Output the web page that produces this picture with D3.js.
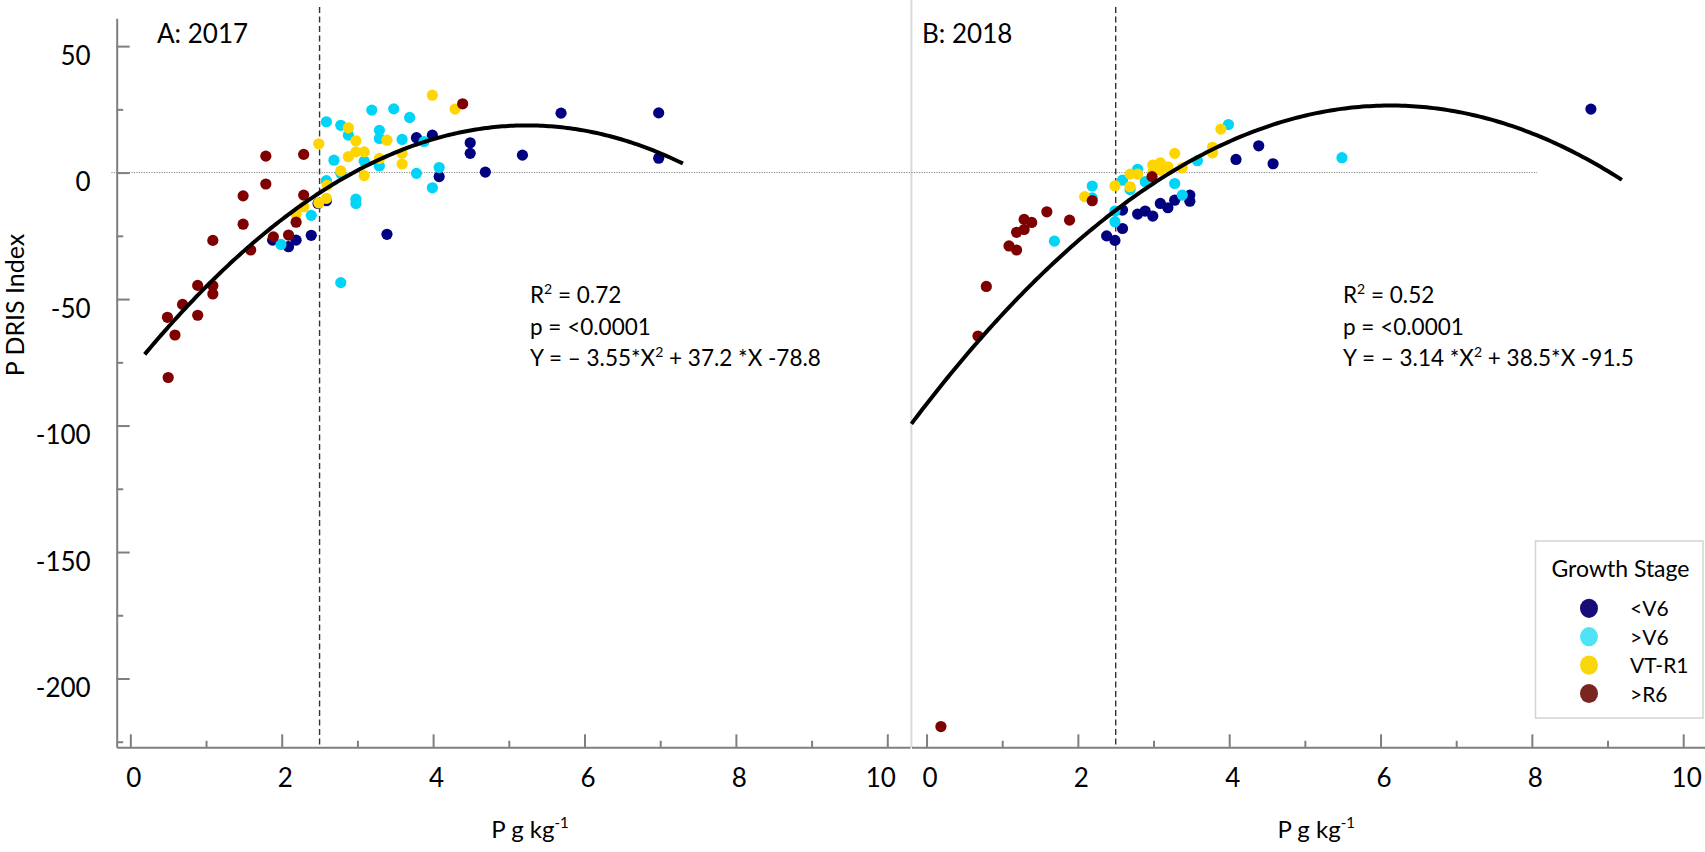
<!DOCTYPE html>
<html>
<head>
<meta charset="utf-8">
<script src="https://cdn.jsdelivr.net/npm/d3@7"></script>
<style>
  html, body { margin: 0; padding: 0; background: #fff; }
  svg { display: block; font-family: Lato, "Open Sans", sans-serif; }
</style>
</head>
<body>
<svg id="chart" width="1705" height="852"></svg>
<script>
// ---- Data: leaf P concentration (g/kg) vs P DRIS index, by growth stage ----
const stages = ["<V6", ">V6", "VT-R1", ">R6"];
const pointColors = ["#000080", "#00d4f7", "#ffd500", "#7f0000"];
const legendColors = ["#160d78", "#4ee4f6", "#f9d70d", "#7a2520"];

// 2017
const a2017_ltV6 = [[1.88,-26.7],[2.09,-29.3],[2.19,-26.7],[2.39,-24.8],[2.48,-12.2],[2.59,-11.1],
  [3.39,-24.4],[3.78,13.8],[3.99,14.8],[4.49,11.8],[4.49,7.6],[4.08,-1.6],[4.69,0.2],
  [5.18,6.9],[5.69,23.5],[6.98,23.6],[6.98,5.7]];
const a2017_gtV6 = [[2.59,20.1],[2.78,18.7],[2.88,14.8],[3.19,24.7],[3.48,25.2],[3.69,21.8],
  [3.29,16.7],[3.29,13.5],[3.59,13.1],[3.88,12.3],[2.69,4.9],[3.09,4.5],[3.29,2.6],
  [2.78,-0.3],[3.78,-0.3],[4.08,2.0],[2.59,-3.2],[3.99,-6.0],[2.98,-10.5],[2.98,-12.2],
  [2.39,-16.9],[1.99,-28.4],[2.78,-43.5]];
const a2017_vtR1 = [[3.99,30.6],[4.29,25.1],[2.88,17.7],[2.98,12.6],[3.39,12.8],[2.49,11.4],
  [2.88,6.3],[2.98,8.2],[3.09,8.2],[3.29,5.6],[3.59,7.6],[3.59,3.4],[2.78,0.7],[3.09,-1.2],
  [2.60,-5.0],[2.49,-12.0],[2.59,-10.2],[2.29,-13.5],[2.19,-16.4]];
const a2017_gtR6 = [[4.39,27.2],[1.79,6.5],[2.29,7.2],[1.79,-4.5],[1.49,-9.2],[2.29,-8.9],
  [1.49,-20.4],[2.19,-19.6],[2.09,-24.7],[1.89,-25.4],[1.09,-26.8],[1.59,-30.6],[0.89,-44.6],
  [1.09,-44.7],[1.09,-48.0],[0.69,-52.1],[0.89,-56.4],[0.49,-57.2],[0.59,-64.2],[0.50,-81.0]];

// 2018
const b2018_ltV6 = [[2.38,-25.0],[2.49,-26.8],[2.59,-22.1],[2.59,-14.8],[2.79,-16.4],[2.89,-15.2],
  [2.99,-17.2],[3.09,-12.2],[3.19,-13.9],[3.28,-10.9],[3.48,-8.9],[3.48,-11.3],[4.09,5.2],
  [4.39,10.6],[4.58,3.5],[8.78,25.1]];
const b2018_gtV6 = [[1.69,-27.1],[2.19,-5.3],[2.19,-10.0],[2.49,-15.2],[2.49,-19.4],[2.59,-3.0],
  [2.69,-6.7],[2.79,1.3],[2.89,-3.6],[3.28,-4.3],[3.38,-8.9],[3.58,4.7],[3.99,19.0],[5.49,5.9]];
const b2018_vtR1 = [[2.09,-9.5],[2.49,-5.2],[2.69,-0.6],[2.69,-5.6],[2.79,-0.6],[2.99,3.0],
  [3.09,3.9],[3.09,1.0],[3.19,2.3],[2.99,0.2],[3.28,7.6],[3.38,1.9],[3.78,10.0],[3.78,7.8],
  [3.89,17.2]];
const b2018_gtR6 = [[0.68,-64.6],[0.79,-45.0],[1.09,-29.0],[1.19,-30.6],[1.19,-23.6],[1.29,-22.5],
  [1.29,-18.5],[1.39,-19.7],[1.59,-15.5],[1.89,-18.8],[2.19,-11.1],[2.98,-1.6],[0.19,-219.0]];

// Quadratic fits: Y = a*X^2 + b*X + c, drawn over the fitted X range
const fit2017 = { a: -3.55, b: 37.2, c: -78.8, from: 0.19, to: 7.3 };
const fit2018 = { a: -3.14, b: 38.5, c: -91.5, from: -0.2, to: 9.19 };

const xTicks = [0, 2, 4, 6, 8, 10];
const xMinorTicks = [1, 3, 5, 7, 9];
const yTicks = [50, 0, -50, -100, -150, -200];
const yMinorTicks = [25, -25, -75, -125, -175, -225];
const criticalP = 2.5;

// ---- Scales ----
const svg = d3.select("#chart");
const axisColor = "#7f7f7f";
const y = d3.scaleLinear().domain([-227.2, 61]).range([747.3, 18.3]);
const xA = d3.scaleLinear().domain([-0.18, 10.3]).range([116.7, 910]);
const xB = d3.scaleLinear().domain([-0.2, 10.3]).range([911.4, 1705.9]);
const axisY = y.range()[0];
const plainNumber = d => String(d);   // hyphen-minus, as typeset on the axes

// Panel B vertical frame line (light)
svg.append("line")
  .attr("x1", xB(-0.2)).attr("x2", xB(-0.2))
  .attr("y1", 0).attr("y2", axisY)
  .attr("stroke", "#d9d9d9").attr("stroke-width", 2);

// Zero reference lines (dotted)
[[xA, -0.25, 10.3], [xB, -0.2, 8.07]].forEach(([sx, a, b]) => {
  svg.append("line")
    .attr("x1", sx(a)).attr("x2", sx(b))
    .attr("y1", y(0)).attr("y2", y(0))
    .attr("stroke", "#808080").attr("stroke-width", 1)
    .attr("stroke-dasharray", "1.2,1.3");
});

// Critical concentration lines (dashed)
[xA, xB].forEach(sx => {
  svg.append("line")
    .attr("x1", sx(criticalP)).attr("x2", sx(criticalP))
    .attr("y1", 7).attr("y2", axisY)
    .attr("stroke", "#333").attr("stroke-width", 1.4)
    .attr("stroke-dasharray", "6,3.5");
});

// ---- Axes ----
function styleAxis(g) {
  g.select(".domain").attr("stroke", axisColor).attr("stroke-width", 2);
  g.selectAll(".tick line").attr("stroke", axisColor).attr("stroke-width", 2);
  g.selectAll("text").attr("fill", "#000").style("font-size", "26px")
    .style("font-family", "Lato, 'Open Sans', sans-serif");
}

// Y axis (panel A only)
const gy = svg.append("g").attr("transform", `translate(${xA.range()[0]},0)`)
  .call(d3.axisLeft(y).tickValues(yTicks).tickSizeInner(-13).tickSizeOuter(0)
    .tickPadding(26).tickFormat(plainNumber));
styleAxis(gy);
gy.selectAll("text").attr("dy", null).attr("y", 18);
const gyMinor = svg.append("g").attr("transform", `translate(${xA.range()[0]},0)`)
  .call(d3.axisLeft(y).tickValues(yMinorTicks).tickSizeInner(-6.5).tickSizeOuter(0).tickFormat(""));
styleAxis(gyMinor);
gyMinor.select(".domain").remove();

// X axes (both panels)
[xA, xB].forEach((sx, panel) => {
  const gx = svg.append("g").attr("transform", `translate(0,${axisY})`)
    .call(d3.axisBottom(sx).tickValues(xTicks).tickSizeInner(-13).tickSizeOuter(0)
      .tickFormat(plainNumber));
  styleAxis(gx);
  gx.selectAll("text").attr("dy", null).attr("y", 40)
    .attr("dx", d => (panel === 0 && d === 10) ? -7 : 3);
  const gm = svg.append("g").attr("transform", `translate(0,${axisY})`)
    .call(d3.axisBottom(sx).tickValues(xMinorTicks).tickSizeInner(-6.5).tickSizeOuter(0).tickFormat(""));
  styleAxis(gm);
  gm.select(".domain").remove();
});

// ---- Fitted curves ----
function drawFit(sx, f) {
  const xs = d3.range(0, 201).map(i => f.from + (f.to - f.from) * i / 200);
  svg.append("path")
    .datum(xs)
    .attr("fill", "none").attr("stroke", "#000").attr("stroke-width", 4)
    .attr("d", d3.line().x(d => sx(d)).y(d => y(f.a * d * d + f.b * d + f.c)));
}

// ---- Points ----
function drawPoints(sx, groups) {
  groups.forEach((pts, i) => {
    svg.append("g").selectAll("circle").data(pts).join("circle")
      .attr("cx", d => sx(d[0])).attr("cy", d => y(d[1]))
      .attr("r", 5.6).attr("fill", pointColors[i]);
  });
}

drawPoints(xA, [a2017_ltV6, a2017_gtV6, a2017_vtR1, a2017_gtR6]);
drawFit(xA, fit2017);
drawPoints(xB, [b2018_ltV6, b2018_gtV6, b2018_vtR1, b2018_gtR6]);
drawFit(xB, fit2018);

// ---- Text ----
const txt = (x, yy, size) => svg.append("text").attr("x", x).attr("y", yy)
  .style("font-size", size + "px").attr("fill", "#000");

txt(157, 43, 26).text("A: 2017");
txt(922, 43, 26).text("B: 2018");

// Y axis title
svg.append("text")
  .attr("transform", "translate(24,305) rotate(-90)")
  .attr("text-anchor", "middle")
  .style("font-size", "25px").attr("fill", "#000")
  .text("P DRIS Index");

// X axis titles
[[xA, 5.28], [xB, 5.15]].forEach(([sx, v]) => {
  const t = svg.append("text").attr("x", sx(v)).attr("y", 838)
    .attr("text-anchor", "middle").style("font-size", "24px").attr("fill", "#000");
  t.append("tspan").text("P g kg");
  t.append("tspan").attr("dy", -10).style("font-size", "15px").text("-1");
});

// Regression statistics
function statsBlock(x0, r2, eqA, eqB) {
  const r = txt(x0, 303, 22.5);
  r.append("tspan").text("R");
  r.append("tspan").attr("dy", -9).style("font-size", "14px").text("2");
  r.append("tspan").attr("dy", 9).text(" = " + r2);
  txt(x0, 335, 22.5).text("p = <0.0001");
  const e = txt(x0, 366, 22.5);
  e.append("tspan").text(eqA);
  e.append("tspan").attr("dy", -9).style("font-size", "14px").text("2");
  e.append("tspan").attr("dy", 9).text(eqB);
}
statsBlock(530, "0.72", "Y = \u2013 3.55*X", " + 37.2 *X -78.8");
statsBlock(1343, "0.52", "Y = \u2013 3.14 *X", " + 38.5*X -91.5");

// ---- Legend ----
const lg = svg.append("g");
lg.append("rect").attr("x", 1535.5).attr("y", 541).attr("width", 167.5).attr("height", 177)
  .attr("fill", "#fff").attr("stroke", "#d3d3d3").attr("stroke-width", 1.5);
lg.append("text").attr("x", 1551.5).attr("y", 577).style("font-size", "23px").attr("fill", "#000")
  .text("Growth Stage");
stages.forEach((s, i) => {
  const cy = 608.3 + i * 28.4;
  lg.append("ellipse").attr("cx", 1589).attr("cy", cy).attr("rx", 9).attr("ry", 9.6)
    .attr("fill", legendColors[i]);
  lg.append("text").attr("x", 1630).attr("y", cy + 8).style("font-size", "21px").attr("fill", "#000")
    .text(s);
});
</script>
</body>
</html>
